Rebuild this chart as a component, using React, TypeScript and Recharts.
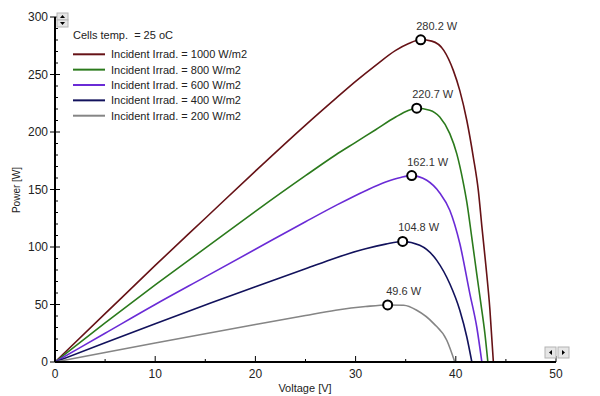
import { ComposedChart, Line, XAxis, YAxis, ReferenceDot } from "recharts"

// P-V curves (voltage [V], power [W])
const v1000 = [0, 5, 10, 15, 20, 25, 28, 30, 32, 34, 35.3, 36.5, 37.6, 38.8, 39.75, 40.4, 41.1, 41.75, 42.25, 42.6, 43.0, 43.4, 43.75]
const p1000 = [0, 42, 84, 125, 166, 206, 229, 244, 258, 271, 277, 280.2, 279, 271, 253.6, 236, 210, 178, 149, 118, 84, 46, 0]

const v800 = [0, 5, 10, 15, 20, 25, 28, 30, 32, 34, 35.2, 36.1, 37.4, 38.4, 39.4, 40.1, 40.7, 41.1, 41.6, 42.1, 42.5, 42.9, 43.2]
const p800 = [0, 34, 67, 99, 131, 162, 180, 191, 202, 213, 218.5, 220.7, 219, 213, 198.6, 181, 158, 139, 108, 76, 51, 25, 0]

const v600 = [0, 5, 10, 15, 20, 25, 28, 31, 33, 34.5, 35.6, 37.1, 38.4, 39.4, 40.4, 41.4, 42.1, 42.6]
const p600 = [0, 25, 50, 74, 98, 122, 136, 149, 156.5, 160.5, 162.1, 158, 147, 132, 103, 59.5, 30, 0]

const v400 = [0, 5, 10, 15, 20, 25, 28, 31, 33, 34.7, 36.4, 38.1, 39.4, 40.4, 41.1, 41.6]
const p400 = [0, 16.8, 33.3, 49.5, 65.5, 81, 90.5, 98.5, 102.5, 104.8, 101.5, 88.4, 68, 45, 21.7, 0]

const v200 = [0, 5, 10, 15, 20, 25, 28, 31, 33.2, 34.8, 36.1, 37.8, 39.1, 39.9]
const p200 = [0, 8.3, 16.5, 24.6, 32.6, 40.5, 45, 48.2, 49.6, 49.3, 45, 33.4, 18.9, 0]

const seriesNames = [
  "Incident Irrad. = 1000 W/m2",
  "Incident Irrad. = 800 W/m2",
  "Incident Irrad. = 600 W/m2",
  "Incident Irrad. = 400 W/m2",
  "Incident Irrad. = 200 W/m2",
]
const seriesColors = ["#661216", "#2b7a1c", "#6a2bd6", "#12125c", "#858585"]
const seriesV = [v1000, v800, v600, v400, v200]
const seriesP = [p1000, p800, p600, p400, p200]

// maximum power points
const peakV = [36.5, 36.1, 35.6, 34.7, 33.2]
const peakP = [280.2, 220.7, 162.1, 104.8, 49.6]
const peakLabels = ["280.2 W", "220.7 W", "162.1 W", "104.8 W", "49.6 W"]

const xTicks = [0, 5, 10, 15, 20, 25, 30, 35, 40, 45, 50]
const yTicks = Array.from({ length: 31 }, (_, i) => i * 10)

const FONT = "'Liberation Sans', Arial, sans-serif"

const BottomTick = ({ x, y, payload }: any) => {
  const major = payload.value % 10 === 0
  return (
    <g>
      <line x1={x} x2={x} y1={y - (major ? 6 : 3)} y2={y} stroke="#000" strokeWidth={1} />
      {major && (
        <text x={x} y={y + 16} textAnchor="middle" fontSize={12} fontFamily={FONT} fill="#222">
          {payload.value}
        </text>
      )}
    </g>
  )
}

const TopTick = ({ x, y, payload }: any) => {
  const major = payload.value % 10 === 0
  return <line x1={x} x2={x} y1={y} y2={y + (major ? 6 : 4)} stroke="#000" strokeWidth={1} />
}

const LeftTick = ({ x, y, payload }: any) => {
  const major = payload.value % 50 === 0
  return (
    <g>
      <line x1={x - (major ? 5 : 0)} x2={x + (major ? 5 : 3)} y1={y} y2={y} stroke="#000" strokeWidth={1} />
      {major && (
        <text x={x - 7} y={y + 4} textAnchor="end" fontSize={12} fontFamily={FONT} fill="#222">
          {payload.value}
        </text>
      )}
    </g>
  )
}

const RightTick = ({ x, y, payload }: any) => {
  const major = payload.value % 50 === 0
  return <line x1={x - (major ? 7 : 3)} x2={x} y1={y} y2={y} stroke="#000" strokeWidth={1} />
}

const ScrollBtn = ({ x, y, w, h, dir }: { x: number; y: number; w: number; h: number; dir: string }) => {
  const cx = x + w / 2
  const cy = y + h / 2
  let pts = ""
  if (dir === "up") pts = `${cx - 2.5},${cy + 1.5} ${cx + 2.5},${cy + 1.5} ${cx},${cy - 1.5}`
  if (dir === "down") pts = `${cx - 2.5},${cy - 1.5} ${cx + 2.5},${cy - 1.5} ${cx},${cy + 1.5}`
  if (dir === "left") pts = `${cx + 1.5},${cy - 2.5} ${cx + 1.5},${cy + 2.5} ${cx - 1.5},${cy}`
  if (dir === "right") pts = `${cx - 1.5},${cy - 2.5} ${cx - 1.5},${cy + 2.5} ${cx + 1.5},${cy}`
  return (
    <g>
      <rect x={x} y={y} width={w} height={h} fill="#e6e6e6" stroke="#b4b4b4" strokeWidth={1} />
      <polygon points={pts} fill="#000" />
    </g>
  )
}

export default function App() {
  return (
    <div style={{ position: "absolute", left: 0, top: 0, width: 600, height: 396, background: "#fff" }}>
      <ComposedChart width={600} height={396} margin={{ top: 17, right: 44, bottom: 0, left: 0 }}>
        <XAxis
          xAxisId="bottom"
          type="number"
          dataKey="v"
          domain={[0, 50]}
          allowDataOverflow
          ticks={xTicks}
          interval={0}
          height={34}
          tickSize={0}
          tickMargin={0}
          tickLine={false}
          tick={<BottomTick />}
          axisLine={{ stroke: "#000", strokeWidth: 2 }}
        />
        <XAxis
          xAxisId="top"
          orientation="top"
          type="number"
          domain={[0, 50]}
          allowDataOverflow
          ticks={xTicks}
          interval={0}
          height={0}
          tickSize={0}
          tickMargin={0}
          tickLine={false}
          tick={<TopTick />}
          axisLine={{ stroke: "#000", strokeWidth: 1.5 }}
        />
        <YAxis
          yAxisId="left"
          type="number"
          domain={[0, 300]}
          allowDataOverflow
          ticks={yTicks}
          interval={0}
          width={55}
          tickSize={0}
          tickMargin={0}
          tickLine={false}
          tick={<LeftTick />}
          axisLine={{ stroke: "#000", strokeWidth: 2 }}
        />
        <YAxis
          yAxisId="right"
          orientation="right"
          type="number"
          domain={[0, 300]}
          allowDataOverflow
          ticks={yTicks}
          interval={0}
          width={0}
          tickSize={0}
          tickMargin={0}
          tickLine={false}
          tick={<RightTick />}
          axisLine={{ stroke: "#000", strokeWidth: 2 }}
        />
        {seriesNames.map((name, i) => (
          <Line
            key={name}
            xAxisId="bottom"
            yAxisId="left"
            data={seriesV[i].map((v, j) => ({ v, p: seriesP[i][j] }))}
            dataKey="p"
            name={name}
            type="monotone"
            stroke={seriesColors[i]}
            strokeWidth={1.6}
            dot={false}
            activeDot={false}
            isAnimationActive={false}
          />
        ))}
        {peakV.map((v, i) => (
          <ReferenceDot
            key={peakLabels[i]}
            xAxisId="bottom"
            yAxisId="left"
            x={v}
            y={peakP[i]}
            r={4.5}
            shape={(props: any) => (
              <g>
                <circle cx={props.cx} cy={props.cy} r={4.5} fill="#fff" stroke="#000" strokeWidth={2} />
                <text
                  x={props.cx + 16}
                  y={props.cy - 10}
                  textAnchor="middle"
                  fontSize={11}
                  fontFamily={FONT}
                  fill="#333"
                >
                  {peakLabels[i]}
                </text>
              </g>
            )}
          />
        ))}
      </ComposedChart>
      <svg
        width={600}
        height={396}
        style={{ position: "absolute", left: 0, top: 0, pointerEvents: "none" }}
        fontFamily={FONT}
      >
        <text x={73} y={39} fontSize={11} fill="#222" style={{ whiteSpace: "pre" }}>
          {"Cells temp.  = 25 oC"}
        </text>
        {seriesNames.map((name, i) => (
          <g key={name}>
            <line x1={73} x2={105} y1={54.3 + i * 15.35} y2={54.3 + i * 15.35} stroke={seriesColors[i]} strokeWidth={2} />
            <text x={111} y={58.3 + i * 15.35} fontSize={11} fill="#222">
              {name}
            </text>
          </g>
        ))}
        <text x={305} y={392} textAnchor="middle" fontSize={11} fill="#222">
          Voltage [V]
        </text>
        <text x={20} y={190} textAnchor="middle" fontSize={10} fill="#222" transform="rotate(-90 20 190)">
          Power [W]
        </text>
        <ScrollBtn x={57} y={13} w={11} h={7} dir="up" />
        <ScrollBtn x={57} y={20} w={11} h={7} dir="down" />
        <ScrollBtn x={545} y={347} w={11} h={11} dir="left" />
        <ScrollBtn x={558} y={347} w={11} h={11} dir="right" />
      </svg>
    </div>
  )
}
